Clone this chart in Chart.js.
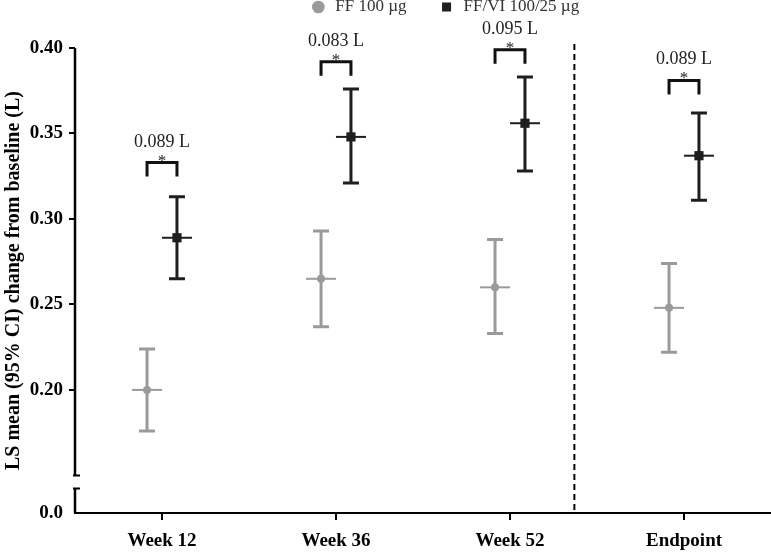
<!DOCTYPE html>
<html>
<head>
<meta charset="utf-8">
<script src="https://cdn.jsdelivr.net/npm/chart.js@4.4.1/dist/chart.umd.min.js"></script>
<style>
  html, body { margin: 0; padding: 0; background: #fff; }
  #wrap { width: 771px; height: 552px; }
</style>
</head>
<body>
<div id="wrap"><canvas id="chart"></canvas></div>
<script>
const categories = ['Week 12', 'Week 36', 'Week 52', 'Endpoint'];
const seriesNames = ['FF 100 µg', 'FF/VI 100/25 µg'];
// LS mean change and 95% CI, FF 100
const ffMean = [0.200, 0.265, 0.260, 0.248];
const ffLow = [0.176, 0.237, 0.233, 0.222];
const ffHigh = [0.224, 0.293, 0.288, 0.274];
// LS mean change and 95% CI, FF/VI 100/25
const fvMean = [0.289, 0.348, 0.356, 0.337];
const fvLow = [0.265, 0.321, 0.328, 0.311];
const fvHigh = [0.313, 0.376, 0.383, 0.362];
// treatment differences and where their brackets sit
const diffLabels = ['0.089 L', '0.083 L', '0.095 L', '0.089 L'];
const bracketLevel = [0.333, 0.392, 0.399, 0.381];
const yTicks = [0.20, 0.25, 0.30, 0.35, 0.40];

const gray = '#9a9a9a';
const dark = '#1e1e1e';
const serif = "'Liberation Serif', 'Times New Roman', serif";
const breakAt = 0.15;   // axis is cut below this
const floorVal = 0.128; // where "0.0" is drawn, under the break
const dx = 0.086;       // side offset of each group

function bars(ctx, xs, ys, mean, low, high, off, color) {
  ctx.save();
  ctx.strokeStyle = color;
  mean.forEach((m, i) => {
    const x = xs.getPixelForValue(i + 1 + off);
    const yl = ys.getPixelForValue(low[i]);
    const yh = ys.getPixelForValue(high[i]);
    const ym = ys.getPixelForValue(m);
    ctx.lineWidth = 3;
    ctx.beginPath();
    ctx.moveTo(x, yl); ctx.lineTo(x, yh);
    ctx.moveTo(x - 8, yl); ctx.lineTo(x + 8, yl);
    ctx.moveTo(x - 8, yh); ctx.lineTo(x + 8, yh);
    ctx.stroke();
    ctx.lineWidth = 2;
    ctx.beginPath();
    ctx.moveTo(x - 15, ym); ctx.lineTo(x + 15, ym);
    ctx.stroke();
  });
  ctx.restore();
}

const decor = {
  id: 'decor',
  afterLayout(chart) {
    // legend sits right of centre and partly above the top edge
    const lg = chart.legend;
    lg.left += 59; lg.right += 59;
    lg.top -= 22.5; lg.bottom -= 22.5;
  },
  beforeDatasetsDraw(chart) {
    const {ctx, scales: {x, y}} = chart;
    bars(ctx, x, y, ffMean, ffLow, ffHigh, -dx, gray);
    bars(ctx, x, y, fvMean, fvLow, fvHigh, dx, dark);
  },
  afterDatasetsDraw(chart) {
    const {ctx, chartArea: a, scales: {x, y}} = chart;
    ctx.save();
    // broken y axis
    const yb = y.getPixelForValue(breakAt);
    ctx.strokeStyle = '#000';
    ctx.lineWidth = 2.5;
    ctx.beginPath();
    ctx.moveTo(a.left, a.top); ctx.lineTo(a.left, yb);
    ctx.moveTo(a.left, yb + 13); ctx.lineTo(a.left, a.bottom);
    ctx.stroke();
    ctx.lineWidth = 2;
    ctx.beginPath();
    ctx.moveTo(a.left - 2, yb); ctx.lineTo(a.left + 5, yb);
    ctx.moveTo(a.left - 2, yb + 13); ctx.lineTo(a.left + 5, yb + 13);
    ctx.stroke();
    // divider before endpoint
    const xd = x.getPixelForValue(3.37);
    ctx.setLineDash([6, 4]);
    ctx.lineWidth = 2;
    ctx.beginPath();
    ctx.moveTo(xd, a.top - 4); ctx.lineTo(xd, a.bottom);
    ctx.stroke();
    ctx.setLineDash([]);
    // significance brackets
    ctx.strokeStyle = '#111';
    ctx.fillStyle = '#222';
    ctx.textAlign = 'center';
    ctx.textBaseline = 'alphabetic';
    diffLabels.forEach((t, i) => {
      const x1 = x.getPixelForValue(i + 1 - dx);
      const x2 = x.getPixelForValue(i + 1 + dx);
      const yt = y.getPixelForValue(bracketLevel[i]);
      ctx.lineWidth = 3;
      ctx.beginPath();
      ctx.moveTo(x1, yt + 14); ctx.lineTo(x1, yt); ctx.lineTo(x2, yt); ctx.lineTo(x2, yt + 14);
      ctx.stroke();
      ctx.font = '17px ' + serif;
      ctx.fillText('*', (x1 + x2) / 2, yt + 3);
      ctx.font = '18px ' + serif;
      ctx.fillText(t, (x1 + x2) / 2, yt - 16);
    });
    ctx.restore();
  }
};

new Chart(document.getElementById('chart'), {
  type: 'scatter',
  data: {
    datasets: [
      {
        label: seriesNames[0],
        data: ffMean.map((v, i) => ({x: i + 1 - dx, y: v})),
        pointStyle: 'circle',
        pointRadius: 4,
        backgroundColor: gray,
        borderColor: gray,
        borderWidth: 0
      },
      {
        label: seriesNames[1],
        data: fvMean.map((v, i) => ({x: i + 1 + dx, y: v})),
        pointStyle: 'rect',
        pointRadius: 6.5,
        backgroundColor: dark,
        borderColor: dark,
        borderWidth: 0
      }
    ]
  },
  options: {
    responsive: true,
    maintainAspectRatio: false,
    animation: false,
    layout: { autoPadding: false, padding: { top: -10.5, right: 0, left: 0, bottom: 0 } },
    plugins: {
      tooltip: { enabled: false },
      legend: {
        labels: {
          usePointStyle: true,
          boxWidth: 17,
          boxHeight: 9,
          padding: 31.5,
          color: '#333',
          font: { family: serif, size: 17 }
        }
      }
    },
    scales: {
      x: {
        type: 'linear',
        min: 0.5,
        max: 4.5,
        afterBuildTicks: s => { s.ticks = categories.map((c, i) => ({value: i + 1})); },
        afterFit: s => { s.height = 39; },
        ticks: {
          callback: (v, i) => categories[i],
          color: '#000',
          padding: 10,
          font: { family: serif, size: 19, weight: 'bold' }
        },
        grid: { drawOnChartArea: false, tickLength: 7, color: '#000', lineWidth: 2 },
        border: { display: true, color: '#000', width: 2 }
      },
      y: {
        min: floorVal,
        max: 0.40,
        afterBuildTicks: s => {
          s.ticks = [floorVal, breakAt].concat(yTicks).map(v => ({value: v}));
        },
        afterFit: s => { s.width = 75; },
        ticks: {
          callback: (v, i) => i === 0 ? '0.0' : (i === 1 ? '' : v.toFixed(2)),
          color: '#000',
          padding: 6,
          font: { family: serif, size: 19, weight: 'bold' }
        },
        grid: {
          drawOnChartArea: false,
          tickLength: 6,
          lineWidth: 2,
          tickColor: c => c.index < 2 ? 'rgba(0,0,0,0)' : '#000'
        },
        border: { display: false },
        title: {
          display: true,
          text: 'LS mean (95% CI) change from baseline (L)',
          color: '#000',
          padding: { top: 2, bottom: 0 },
          font: { family: serif, size: 20, weight: 'bold' }
        }
      }
    }
  },
  plugins: [decor]
});
</script>
</body>
</html>
